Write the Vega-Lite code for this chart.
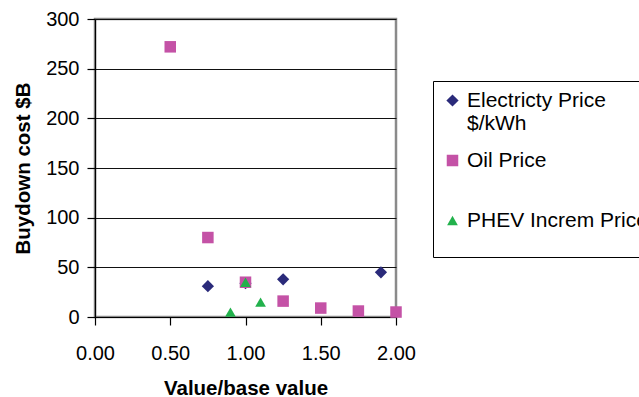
{
  "$schema": "https://vega.github.io/schema/vega-lite/v6.json",
  "width": 301,
  "height": 298,
  "autosize": {"type": "none"},
  "padding": {"left": 95, "top": 19, "right": 243, "bottom": 80},
  "background": "white",
  "config": {
    "font": "Liberation Sans",
    "view": {"stroke": "#8a8a8a", "strokeWidth": 2.5}
  },
  "data": {
    "values": [
      {"series": "Electricty Price $/kWh", "x": 0.75, "y": 31},
      {"series": "Electricty Price $/kWh", "x": 1.0, "y": 34},
      {"series": "Electricty Price $/kWh", "x": 1.25, "y": 38},
      {"series": "Electricty Price $/kWh", "x": 1.9, "y": 45},
      {"series": "Oil Price", "x": 0.5, "y": 272},
      {"series": "Oil Price", "x": 0.75, "y": 80},
      {"series": "Oil Price", "x": 1.0, "y": 35},
      {"series": "Oil Price", "x": 1.25, "y": 16},
      {"series": "Oil Price", "x": 1.5, "y": 9},
      {"series": "Oil Price", "x": 1.75, "y": 6},
      {"series": "Oil Price", "x": 2.0, "y": 5},
      {"series": "PHEV Increm Price", "x": 0.9, "y": 5},
      {"series": "PHEV Increm Price", "x": 1.0, "y": 35},
      {"series": "PHEV Increm Price", "x": 1.1, "y": 15}
    ]
  },
  "mark": {"type": "point", "filled": true, "opacity": 1, "strokeWidth": 0},
  "encoding": {
    "x": {
      "field": "x", "type": "quantitative",
      "scale": {"domain": [0, 2], "nice": false, "zero": false},
      "axis": {
        "title": "Value/base value",
        "values": [0, 0.5, 1, 1.5, 2],
        "format": ".2f",
        "grid": false,
        "domainColor": "black", "domainWidth": 1.2,
        "tickColor": "black", "tickSize": 8, "tickWidth": 1.2,
        "labelFontSize": 20, "labelColor": "black", "labelPadding": 18,
        "labelFlush": false, "labelOverlap": false,
        "titleFontSize": 20.5, "titleFontWeight": "bold", "titleColor": "black",
        "titlePadding": 15
      }
    },
    "y": {
      "field": "y", "type": "quantitative",
      "scale": {"domain": [0, 300], "nice": false},
      "axis": {
        "title": "Buydown cost $B",
        "values": [0, 50, 100, 150, 200, 250, 300],
        "grid": true, "gridColor": "#111", "gridWidth": 1.2,
        "domainColor": "black", "domainWidth": 1.2,
        "tickColor": "black", "tickSize": 8, "tickWidth": 1.2,
        "labelFontSize": 20, "labelColor": "black", "labelPadding": 8,
        "titleFontSize": 20.5, "titleFontWeight": "bold", "titleColor": "black",
        "titlePadding": 12
      }
    },
    "size": {
      "field": "series", "type": "nominal",
      "scale": {
        "domain": ["Electricty Price $/kWh", "Oil Price", "PHEV Increm Price"],
        "range": [150, 115, 125]
      },
      "legend": null
    },
    "color": {
      "field": "series", "type": "nominal",
      "scale": {
        "domain": ["Electricty Price $/kWh", "Oil Price", "PHEV Increm Price"],
        "range": ["#2a2a7a", "#c452a6", "#22b14c"]
      },
      "legend": {
        "title": " ",
        "titleOrient": "bottom",
        "titleFontSize": 8,
        "titlePadding": 9,
        "orient": "none",
        "legendX": 338,
        "legendY": 62,
        "strokeColor": "black",
        "fillColor": "white",
        "padding": 9,
        "labelFontSize": 21,
        "labelColor": "black",
        "labelLimit": 400,
        "labelOffset": 4,
        "symbolSize": 100,
        "symbolStrokeWidth": 0,
        "rowPadding": 15,
        "labelExpr": "datum.label == 'Electricty Price $/kWh' ? ['Electricty Price', '$/kWh'] : datum.label == 'Oil Price' ? ['Oil Price', ''] : datum.label"
      }
    },
    "shape": {
      "field": "series", "type": "nominal",
      "scale": {
        "domain": ["Electricty Price $/kWh", "Oil Price", "PHEV Increm Price"],
        "range": ["diamond", "square", "triangle-up"]
      }
    }
  }
}
